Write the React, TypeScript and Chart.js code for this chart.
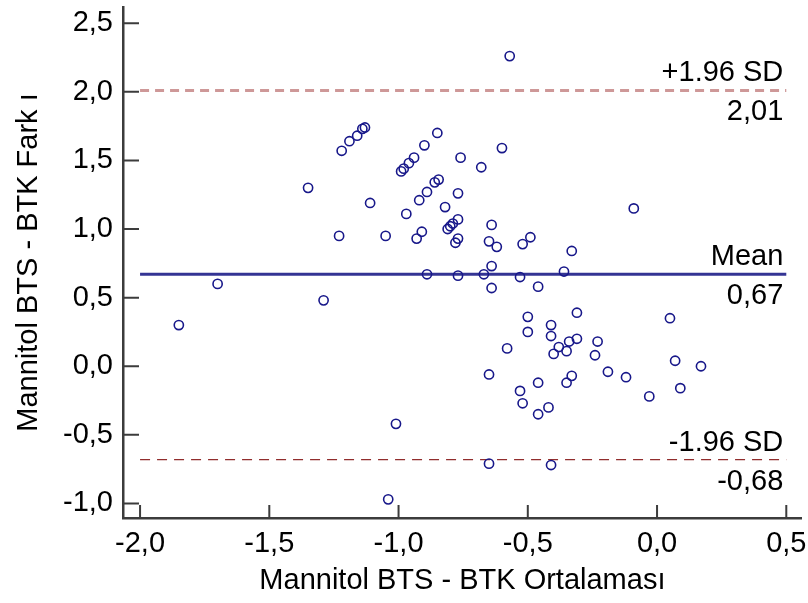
import React, { useEffect, useRef } from 'react';
import { Chart, registerables } from 'chart.js';

Chart.register(...registerables);

// Bland-Altman data: mean of the two methods (x) and their difference (y)
const meanValues = [
  -1.85, -1.70, -1.35, -1.29, -1.23, -1.22, -1.19, -1.16, -1.14, -1.13,
  -1.11, -1.05, -1.01, -1.04, -0.99, -0.98, -0.96, -0.94, -0.90, -0.85,
  -0.76, -0.68, -0.60, -0.57, -0.97, -0.92, -0.89, -0.86, -0.845, -0.82,
  -0.77, -0.77, -0.79, -0.80, -0.81, -0.64, -0.91, -0.93, -0.77, -0.78,
  -0.65, -0.62, -0.52, -0.49, -0.33, -0.64, -0.89, -0.77, -0.67, -0.53,
  -0.36, -0.64, -0.46, -0.09, -0.31, -0.50, -0.41, -0.50, -0.41, -0.58,
  -0.38, -0.34, -0.31, -0.35, -0.40, -0.23, -0.24, -0.65, -0.19, -0.12,
  -0.33, -0.35, -0.46, -0.53, -0.52, -0.42, -0.46, -0.03, 0.05, 0.07,
  0.17, 0.09, -0.65, -0.41,
];
const diffValues = [
  0.30, 0.60, 1.30, 0.48, 0.95, 1.57, 1.64, 1.68, 1.73, 1.74,
  1.19, 0.95, -0.42, -0.97, 1.42, 1.44, 1.48, 1.52, 1.61, 1.70,
  1.52, 1.45, 1.59, 2.26, 1.11, 1.21, 1.27, 1.34, 1.36, 1.16,
  1.26, 1.07, 1.04, 1.02, 1.00, 1.03, 0.98, 0.93, 0.93, 0.90,
  0.91, 0.87, 0.89, 0.94, 0.84, 0.73, 0.67, 0.66, 0.67, 0.65,
  0.69, 0.57, 0.58, 1.15, 0.39, 0.36, 0.30, 0.25, 0.22, 0.13,
  0.14, 0.18, 0.20, 0.11, 0.09, 0.18, 0.08, -0.06, -0.04, -0.08,
  -0.07, -0.12, -0.12, -0.18, -0.27, -0.30, -0.35, -0.22, 0.35, 0.04,
  0.00, -0.16, -0.71, -0.72,
];

const xTickValues = [-2.0, -1.5, -1.0, -0.5, 0.0, 0.5];
const yTickValues = [-1.0, -0.5, 0.0, 0.5, 1.0, 1.5, 2.0, 2.5];

const refNames = ['+1.96 SD', 'Mean', '-1.96 SD'];
const refValues = [2.01, 0.67, -0.68];

const X_MIN = -2.066;
const X_MAX = 0.56;
const Y_MIN = -1.106;
const Y_MAX = 2.618;

const FONT_FAMILY = '"Liberation Sans", Arial, Helvetica, sans-serif';
const FONT_SIZE = 29;

const fmt1 = (v: number) => v.toFixed(1).replace('.', ',');
const fmt2 = (v: number) => v.toFixed(2).replace('.', ',');

const inwardTicksPlugin = {
  id: 'inwardTicks',
  afterDraw(chart: any) {
    const { ctx, chartArea, scales } = chart;
    const xs = scales.x;
    const ys = scales.y;
    ctx.save();
    ctx.strokeStyle = '#3c3c3c';
    ctx.lineWidth = 2;
    ctx.beginPath();
    xTickValues.forEach((v) => {
      const px = xs.getPixelForValue(v);
      ctx.moveTo(px, chartArea.bottom);
      ctx.lineTo(px, chartArea.bottom - 13);
    });
    yTickValues.forEach((v) => {
      const py = ys.getPixelForValue(v);
      ctx.moveTo(chartArea.left, py);
      ctx.lineTo(chartArea.left + 16, py);
    });
    ctx.stroke();
    ctx.restore();
  },
};

const refLabelPlugin = {
  id: 'refLabels',
  afterDatasetsDraw(chart: any) {
    const { ctx, scales } = chart;
    const xs = scales.x;
    const ys = scales.y;
    const xr = xs.getPixelForValue(xTickValues[xTickValues.length - 1]) - 3;
    ctx.save();
    ctx.font = `${FONT_SIZE}px ${FONT_FAMILY}`;
    ctx.fillStyle = '#000000';
    ctx.textAlign = 'right';
    ctx.textBaseline = 'alphabetic';
    refValues.forEach((v, i) => {
      const py = ys.getPixelForValue(v);
      ctx.fillText(refNames[i], xr, py - 9);
      ctx.fillText(fmt2(v), xr, py + 30);
    });
    ctx.restore();
  },
};

export default function App() {
  const canvasRef = useRef<HTMLCanvasElement | null>(null);

  useEffect(() => {
    if (!canvasRef.current) return;
    const points = meanValues.map((m, i) => ({ x: m, y: diffValues[i] }));
    const xStart = xTickValues[0];
    const xEnd = xTickValues[xTickValues.length - 1];
    const refStyles = [
      { color: 'rgb(206,152,152)', width: 3, dash: [9, 6] },
      { color: 'rgb(52,52,148)', width: 3, dash: [] as number[] },
      { color: 'rgb(145,45,45)', width: 1.2, dash: [10, 7] },
    ];
    const refDatasets = refValues.map((v, i) => ({
      label: refNames[i],
      data: [
        { x: xStart, y: v },
        { x: xEnd, y: v },
      ],
      showLine: true,
      borderColor: refStyles[i].color,
      borderWidth: refStyles[i].width,
      borderDash: refStyles[i].dash,
      pointRadius: 0,
      fill: false,
    }));

    const chart = new Chart(canvasRef.current, {
      type: 'scatter',
      data: {
        datasets: [
          {
            label: 'Differences',
            data: points,
            pointRadius: 4.6,
            pointBorderWidth: 1.6,
            pointBorderColor: 'rgb(24,24,138)',
            pointBackgroundColor: 'rgba(0,0,0,0)',
            showLine: false,
          },
          ...refDatasets,
        ] as any,
      },
      options: {
        animation: false,
        responsive: true,
        maintainAspectRatio: false,
        layout: { padding: { top: 7, right: 6, left: 0, bottom: 0 } },
        plugins: {
          legend: { display: false },
          tooltip: { enabled: false },
        },
        scales: {
          x: {
            type: 'linear',
            min: X_MIN,
            max: X_MAX,
            afterFit: (scale: any) => {
              scale.height = 85;
              scale.paddingLeft = 0;
              scale.paddingRight = 0;
            },
            afterBuildTicks: (scale: any) => {
              scale.ticks = xTickValues.map((v) => ({ value: v }));
            },
            grid: { display: true, drawOnChartArea: false, drawTicks: false },
            border: { display: true, color: '#3c3c3c', width: 2.5 },
            ticks: {
              autoSkip: false,
              maxRotation: 0,
              padding: 9,
              color: '#000000',
              font: { family: FONT_FAMILY, size: FONT_SIZE },
              callback: (v: any) => fmt1(Number(v)),
            },
            title: {
              display: true,
              text: 'Mannitol BTS - BTK Ortalaması',
              color: '#000000',
              font: { family: FONT_FAMILY, size: FONT_SIZE },
              padding: { top: 0, bottom: 5 },
            },
          },
          y: {
            type: 'linear',
            min: Y_MIN,
            max: Y_MAX,
            afterFit: (scale: any) => {
              scale.width = 123;
              scale.paddingTop = 0;
              scale.paddingBottom = 0;
            },
            afterBuildTicks: (scale: any) => {
              scale.ticks = yTickValues.map((v) => ({ value: v }));
            },
            grid: { display: true, drawOnChartArea: false, drawTicks: false },
            border: { display: true, color: '#3c3c3c', width: 2.5 },
            ticks: {
              autoSkip: false,
              padding: 10,
              color: '#000000',
              font: { family: FONT_FAMILY, size: FONT_SIZE },
              callback: (v: any) => fmt1(Number(v)),
            },
            title: {
              display: true,
              text: 'Mannitol BTS - BTK Fark ı',
              color: '#000000',
              font: { family: FONT_FAMILY, size: FONT_SIZE },
              padding: { top: 12, bottom: 0 },
            },
          },
        },
      },
      plugins: [inwardTicksPlugin, refLabelPlugin],
    } as any);

    return () => {
      chart.destroy();
    };
  }, []);

  return (
    <div style={{ position: 'absolute', left: 0, top: 0, width: 808, height: 603, background: '#ffffff' }}>
      <canvas ref={canvasRef} />
    </div>
  );
}
